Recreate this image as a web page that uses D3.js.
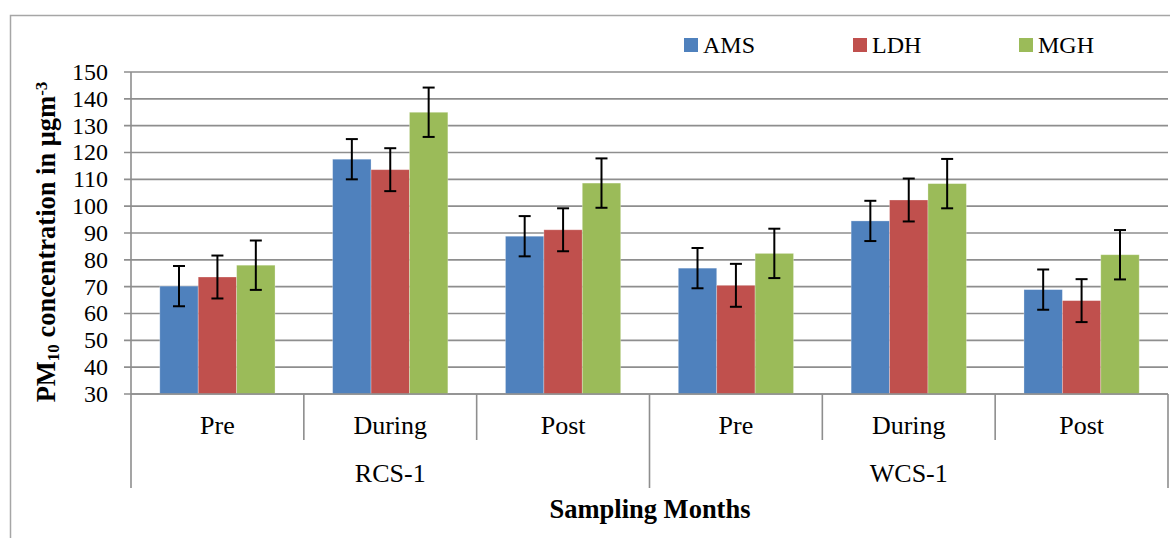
<!DOCTYPE html>
<html lang="en">
<head>
<meta charset="UTF-8">
<title>PM10 concentration</title>
<script src="https://d3js.org/d3.v7.min.js"></script>
<style>
  body { margin: 0; background: #fff; }
  svg text { font-family: "Liberation Serif", "Times New Roman", serif; fill: #000; }
</style>
</head>
<body>
<svg width="1170" height="538"></svg>
<script>
// data
const sites = ["RCS-1", "WCS-1"];
const periods = ["Pre", "During", "Post"];
const seriesNames = ["AMS", "LDH", "MGH"];
const seriesColors = ["#4F81BD", "#C0504D", "#9BBB59"];
// values per series, in order RCS-1 Pre/During/Post, WCS-1 Pre/During/Post
const AMS = [70.2, 117.5, 88.8, 76.9, 94.5, 68.9];
const LDH = [73.6, 113.6, 91.2, 70.5, 102.3, 64.8];
const MGH = [78.0, 135.0, 108.6, 82.4, 108.4, 81.9];
const errAMS = 7.5, errLDH = 8.0, errMGH = 9.2;
const yTicks = d3.range(30, 151, 10);

const svg = d3.select("svg");
const margin = {left: 131, right: 2, top: 72, bottom: 144};
const W = 1170, H = 538;

// outer frame
svg.append("rect").attr("x", 10.5).attr("y", 15.5).attr("width", 1200).attr("height", 600)
  .attr("fill", "none").attr("stroke", "#a6a6a6").attr("stroke-width", 1.5);

const cats = [];
sites.forEach(s => periods.forEach(p => cats.push(s + "|" + p)));

const x = d3.scaleBand().domain(cats).range([margin.left, W - margin.right]);
const xs = d3.scaleBand().domain(seriesNames).range([0, x.bandwidth()])
  .paddingInner(0).paddingOuter(0.75);
const y = d3.scaleLinear().domain([30, 150]).range([394, 72]);

// gridlines
svg.append("g").selectAll("line").data(yTicks).join("line")
  .attr("x1", margin.left - 7).attr("x2", W - margin.right)
  .attr("y1", d => y(d)).attr("y2", d => y(d))
  .attr("stroke", "#8e8e8e").attr("stroke-width", 1.6);

// y axis line
svg.append("line").attr("x1", margin.left).attr("x2", margin.left)
  .attr("y1", 72).attr("y2", 488).attr("stroke", "#8e8e8e").attr("stroke-width", 1.6);

// y tick labels
svg.append("g").selectAll("text").data(yTicks).join("text")
  .attr("x", 108).attr("y", d => y(d)).attr("dy", "0.33em")
  .attr("text-anchor", "end").style("font-size", "24px").text(d => d);

// bars
const table = [AMS, LDH, MGH];
const errs = [errAMS, errLDH, errMGH];
const rows = [];
seriesNames.forEach((s, i) => cats.forEach((c, j) => rows.push({s, c, v: table[i][j], e: errs[i], col: seriesColors[i]})));

svg.append("g").selectAll("rect").data(rows).join("rect")
  .attr("x", d => x(d.c) + xs(d.s))
  .attr("width", xs.bandwidth())
  .attr("y", d => y(d.v))
  .attr("height", d => y(30) - y(d.v))
  .attr("fill", d => d.col)
  .attr("stroke", "rgba(255,255,255,0.35)").attr("stroke-width", 0.8);

// error bars
const eb = svg.append("g").attr("stroke", "#000").attr("stroke-width", 2);
rows.forEach(d => {
  const cx = x(d.c) + xs(d.s) + xs.bandwidth() / 2;
  eb.append("line").attr("x1", cx).attr("x2", cx).attr("y1", y(d.v + d.e)).attr("y2", y(d.v - d.e));
  [d.v + d.e, d.v - d.e].forEach(v => eb.append("line")
    .attr("x1", cx - 6).attr("x2", cx + 6).attr("y1", y(v)).attr("y2", y(v)));
});

// x axis
svg.append("line").attr("x1", margin.left).attr("x2", W - margin.right)
  .attr("y1", 394).attr("y2", 394).attr("stroke", "#8e8e8e").attr("stroke-width", 1.6);
const xa = svg.append("g").attr("stroke", "#8e8e8e").attr("stroke-width", 1.6);
cats.forEach((c, i) => {
  if (i === 0) return;
  const bx = x(c);
  xa.append("line").attr("x1", bx).attr("x2", bx).attr("y1", 394)
    .attr("y2", i % periods.length === 0 ? 488 : 440);
});
xa.append("line").attr("x1", W - margin.right).attr("x2", W - margin.right).attr("y1", 394).attr("y2", 488);

svg.append("g").selectAll("text").data(cats).join("text")
  .attr("x", d => x(d) + x.bandwidth() / 2).attr("y", 434)
  .attr("text-anchor", "middle").style("font-size", "26px")
  .text(d => d.split("|")[1]);

svg.append("g").selectAll("text").data(sites).join("text")
  .attr("x", (d, i) => x(cats[i * 3]) + x.bandwidth() * 1.5).attr("y", 482)
  .attr("text-anchor", "middle").style("font-size", "26px").text(d => d);

// axis titles
svg.append("text").attr("x", 650).attr("y", 518).attr("text-anchor", "middle")
  .style("font-size", "26.5px").style("font-weight", "bold").text("Sampling Months");

const yt = svg.append("text").attr("transform", "translate(55,242) rotate(-90)")
  .attr("text-anchor", "middle").style("font-size", "26.5px").style("font-weight", "bold");
yt.append("tspan").text("PM");
yt.append("tspan").attr("baseline-shift", "-25%").style("font-size", "17px").text("10");
yt.append("tspan").text(" concentration in μgm");
yt.append("tspan").attr("baseline-shift", "45%").style("font-size", "17px").text("-3");

// legend
const lgX = [684, 853, 1019];
const lg = svg.append("g").selectAll("g").data(seriesNames).join("g")
  .attr("transform", (d, i) => `translate(${lgX[i]},38)`);
lg.append("rect").attr("width", 14).attr("height", 14).attr("fill", (d, i) => seriesColors[i]);
lg.append("text").attr("x", 19).attr("y", 15).style("font-size", "24px").text(d => d);
</script>
</body>
</html>
